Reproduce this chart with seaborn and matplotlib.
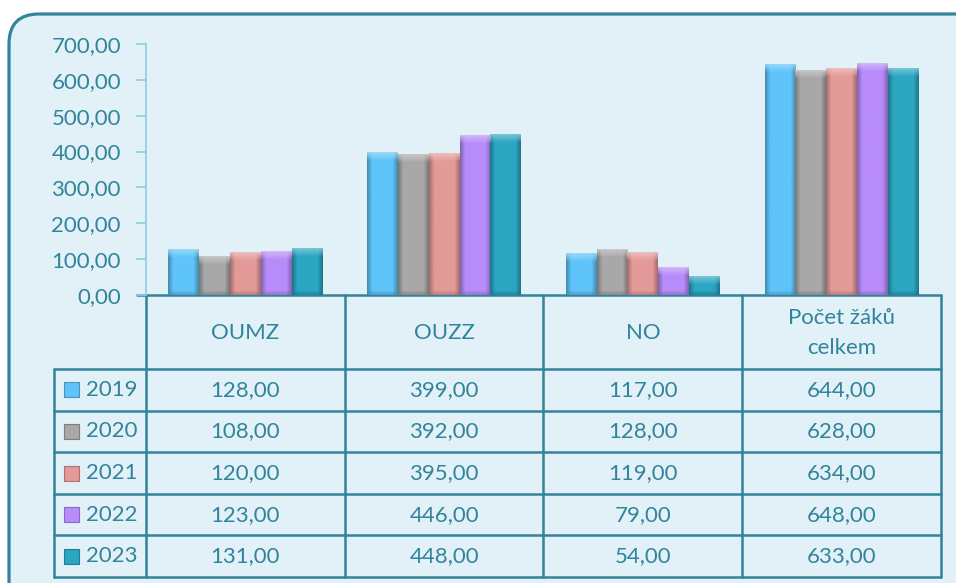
import numpy as np
import pandas as pd
import matplotlib
matplotlib.use('Agg')
import matplotlib.pyplot as plt
import seaborn as sns
from matplotlib.patches import FancyBboxPatch, Rectangle
from matplotlib.colors import to_rgba

# Data
categories = ['OUMZ', 'OUZZ', 'NO', 'Počet žáků\ncelkem']
years = ['2019', '2020', '2021', '2022', '2023']
v2019 = [128, 399, 117, 644]
v2020 = [108, 392, 128, 628]
v2021 = [120, 395, 119, 634]
v2022 = [123, 446, 79, 648]
v2023 = [131, 448, 54, 633]
series = [v2019, v2020, v2021, v2022, v2023]
colors = ['#5EC4FA', '#A8A8A8', '#E39A98', '#B78CFA', '#2AA6C2']
yticks = [0, 100, 200, 300, 400, 500, 600, 700]

teal = '#31849B'
bgcol = '#E2F1F7'

# Long table for seaborn
rows = []
for yr, vals in zip(years, series):
    for cat, v in zip(categories, vals):
        rows.append({'cat': cat, 'year': yr, 'val': v})
df = pd.DataFrame(rows)

sns.set_theme(style='white')
plt.rcParams['font.family'] = ['Lato', 'DejaVu Sans']

W, H = 956, 583
fig = plt.figure(figsize=(W / 100, H / 100), dpi=100, facecolor='white')

# Background layer in pixel coordinates
bg = fig.add_axes([0, 0, 1, 1], zorder=0)
bg.set_xlim(0, W)
bg.set_ylim(H, 0)
bg.axis('off')
bg.add_patch(FancyBboxPatch((9, 14), 1000, 620,
                            boxstyle='round,pad=0,rounding_size=30',
                            facecolor=bgcol, edgecolor=teal, linewidth=2.3))

# Main chart axes
left, right, top, base = 146, 941, 44, 295
ax = fig.add_axes([left / W, (H - base) / H, (right - left) / W, (base - top) / H], zorder=1)
ax.set_facecolor('none')

sns.barplot(data=df, x='cat', y='val', hue='year', palette=colors, width=0.775,
            saturation=1, legend=False, ax=ax, edgecolor='none')

# simple bevel-ish shading on each bar
prof = np.concatenate([np.linspace(0.72, 1.0, 6), np.ones(20), np.linspace(1.0, 0.72, 6)])
cap = 9 * 700 / (base - top)
for p in ax.patches:
    x0, w, h = p.get_x(), p.get_width(), p.get_height()
    if h <= 0:
        continue
    c = np.array(to_rgba(p.get_facecolor()))
    img = np.ones((1, len(prof), 4))
    img[0, :, :3] = np.clip(c[:3] * prof[:, None], 0, 1)
    im = ax.imshow(img, extent=[x0, x0 + w, 0, h], aspect='auto', zorder=3)
    im.set_clip_path(p)
    # light top cap
    top_img = np.ones((8, len(prof), 4))
    top_img[:, :, :3] = np.clip(c[:3] * 0.6 + 0.4, 0, 1)
    top_img[:, :, 3] = np.linspace(0.9, 0.0, 8)[:, None]
    im2 = ax.imshow(top_img, extent=[x0, x0 + w, h - min(cap, h), h], aspect='auto', zorder=4)
    im2.set_clip_path(p)
    # darker foot
    bot_img = np.ones((8, len(prof), 4))
    bot_img[:, :, :3] = np.clip(c[:3] * 0.7, 0, 1)
    bot_img[:, :, 3] = np.linspace(0.0, 0.6, 8)[:, None]
    im3 = ax.imshow(bot_img, extent=[x0, x0 + w, 0, min(cap * 0.5, h)], aspect='auto', zorder=4)
    im3.set_clip_path(p)

ax.set_xlim(-0.5, 3.5)
ax.set_ylim(0, 700)
ax.set_yticks(yticks)
ax.set_yticklabels([f'{t:.2f}'.replace('.', ',') for t in yticks])
ax.tick_params(axis='y', length=7, width=1.2, color='#8FCBE0', pad=11,
               labelsize=16, labelcolor=teal, left=True)
ax.tick_params(axis='x', bottom=False, labelbottom=False)
ax.set_xlabel('')
ax.set_ylabel('')
for s in ['top', 'right', 'bottom']:
    ax.spines[s].set_visible(False)
ax.spines['left'].set_color('#8FCBE0')
ax.spines['left'].set_linewidth(1.2)

# Data table under the chart
col_x = np.linspace(left, right, len(categories) + 1)
key_left = 54
header_bot = 369
row_h = (577 - header_bot) / len(years)
lw = 1.8
fs = 16

bg.plot([left - 9, right], [base, base], color=teal, lw=lw, zorder=5)
for cx in col_x:
    bg.plot([cx, cx], [base, header_bot + row_h * len(years)], color=teal, lw=lw, zorder=5)
bg.plot([key_left, key_left], [header_bot, header_bot + row_h * len(years)], color=teal, lw=lw, zorder=5)
for i in range(len(years) + 1):
    yy = header_bot + i * row_h
    bg.plot([key_left, right], [yy, yy], color=teal, lw=lw, zorder=5)

for j, cat in enumerate(categories):
    xc = (col_x[j] + col_x[j + 1]) / 2
    bg.text(xc, (base + header_bot) / 2 + 1, cat, ha='center', va='center',
            fontsize=fs, color=teal, linespacing=1.65, zorder=6)

for i, (yr, vals, col) in enumerate(zip(years, series, colors)):
    yc = header_bot + (i + 0.5) * row_h
    bg.add_patch(Rectangle((64, yc - 7.5), 15, 15, facecolor=col,
                           edgecolor=np.clip(np.array(to_rgba(col)[:3]) * 0.75, 0, 1),
                           linewidth=0.8, zorder=6))
    bg.text(86, yc, yr, ha='left', va='center', fontsize=fs, color=teal, zorder=6)
    for j, v in enumerate(vals):
        xc = (col_x[j] + col_x[j + 1]) / 2
        bg.text(xc, yc, f'{v:.2f}'.replace('.', ','), ha='center', va='center',
                fontsize=fs, color=teal, zorder=6)

fig.savefig('out.png', dpi=100, facecolor='white')
